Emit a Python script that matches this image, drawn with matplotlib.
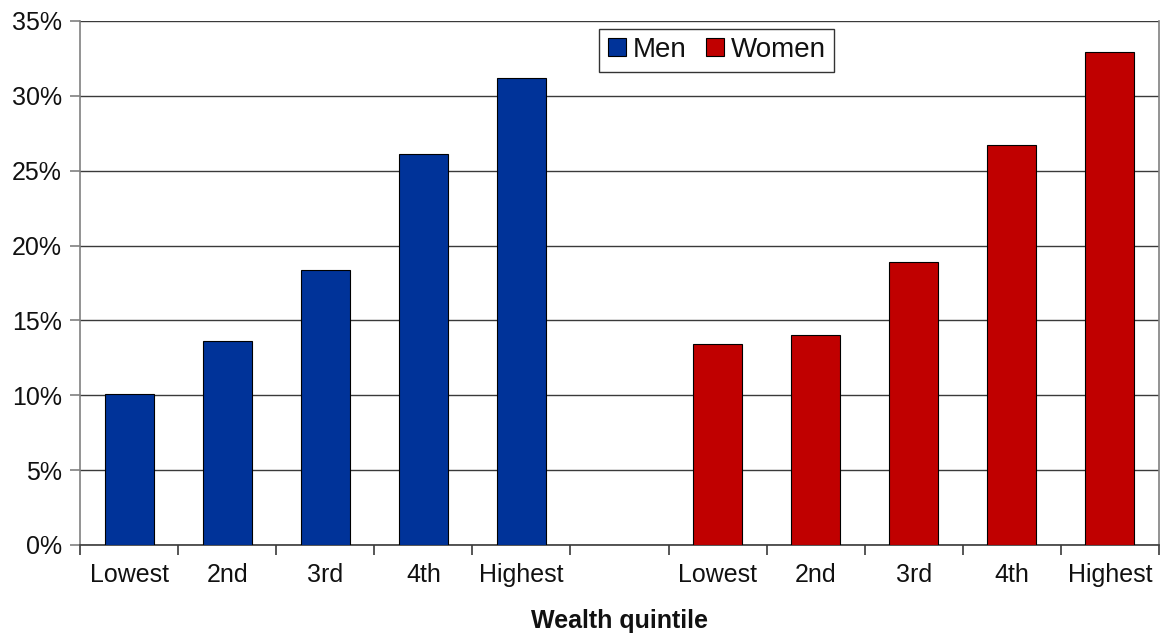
import matplotlib
matplotlib.use("Agg")
import matplotlib.pyplot as plt
from matplotlib.lines import Line2D
from matplotlib.ticker import FixedLocator, PercentFormatter

plt.rcParams['font.family'] = ['Liberation Sans', 'DejaVu Sans']

quintiles = ["Lowest", "2nd", "3rd", "4th", "Highest"]
men = [10.1, 13.6, 18.4, 26.1, 31.2]
women = [13.4, 14.0, 18.9, 26.7, 32.9]

men_color = "#003399"
women_color = "#C00000"
axis_color = "#808080"
grid_color = "#3a3a3a"
text_color = "#111111"

fig = plt.figure(figsize=(11.6, 6.36), dpi=100)
ax = fig.add_axes([80 / 1160, 1 - 545 / 636, 1079 / 1160, 524 / 636])

men_x = list(range(len(quintiles)))
women_x = [i + len(quintiles) + 1 for i in range(len(quintiles))]

ax.bar(men_x, men, width=0.5, color=men_color, edgecolor="black", linewidth=0.8, zorder=3)
ax.bar(women_x, women, width=0.5, color=women_color, edgecolor="black", linewidth=0.8, zorder=3)

ax.set_xlim(-0.5, women_x[-1] + 0.5)
ax.set_ylim(0, 35)
ax.yaxis.set_major_locator(FixedLocator(range(0, 36, 5)))
ax.yaxis.set_major_formatter(PercentFormatter(decimals=0))
ax.grid(axis="y", color=grid_color, linewidth=1.0, zorder=0)
ax.set_axisbelow(True)

ax.set_xticks(men_x + women_x)
ax.set_xticklabels(quintiles + quintiles)
ax.set_xticks([i - 0.5 for i in range(women_x[-1] + 2)], minor=True)
ax.tick_params(axis="x", which="major", length=0, labelsize=18, pad=13, labelcolor=text_color)
ax.tick_params(axis="x", which="minor", length=7, width=1.2, color=grid_color, direction="out")
ax.tick_params(axis="y", length=7, width=1.2, color=axis_color, labelsize=18, pad=6, labelcolor=text_color)

ax.spines["left"].set_color(axis_color)
ax.spines["right"].set_color(axis_color)
ax.spines["bottom"].set_color(grid_color)
for side in ["left", "bottom", "right"]:
    ax.spines[side].set_linewidth(1.2)
ax.spines["top"].set_visible(False)

ax.set_xlabel("Wealth quintile", fontsize=18, fontweight="bold", labelpad=16, color=text_color)

handles = [
    Line2D([], [], linestyle="none", marker="s", markersize=13,
           markerfacecolor=men_color, markeredgecolor="black", markeredgewidth=0.8),
    Line2D([], [], linestyle="none", marker="s", markersize=13,
           markerfacecolor=women_color, markeredgecolor="black", markeredgewidth=0.8),
]
leg = ax.legend(handles, ["Men", "Women"], ncol=2, loc="upper center",
                bbox_to_anchor=(0.59, 0.985), fontsize=20, frameon=True,
                fancybox=False, handlelength=0.7, handletextpad=0.2,
                columnspacing=0.7, borderpad=0.3, borderaxespad=0)
leg.get_frame().set_edgecolor("black")
leg.get_frame().set_linewidth(1.0)
for t in leg.get_texts():
    t.set_color(text_color)

fig.savefig("out.png", dpi=100, facecolor="white")
